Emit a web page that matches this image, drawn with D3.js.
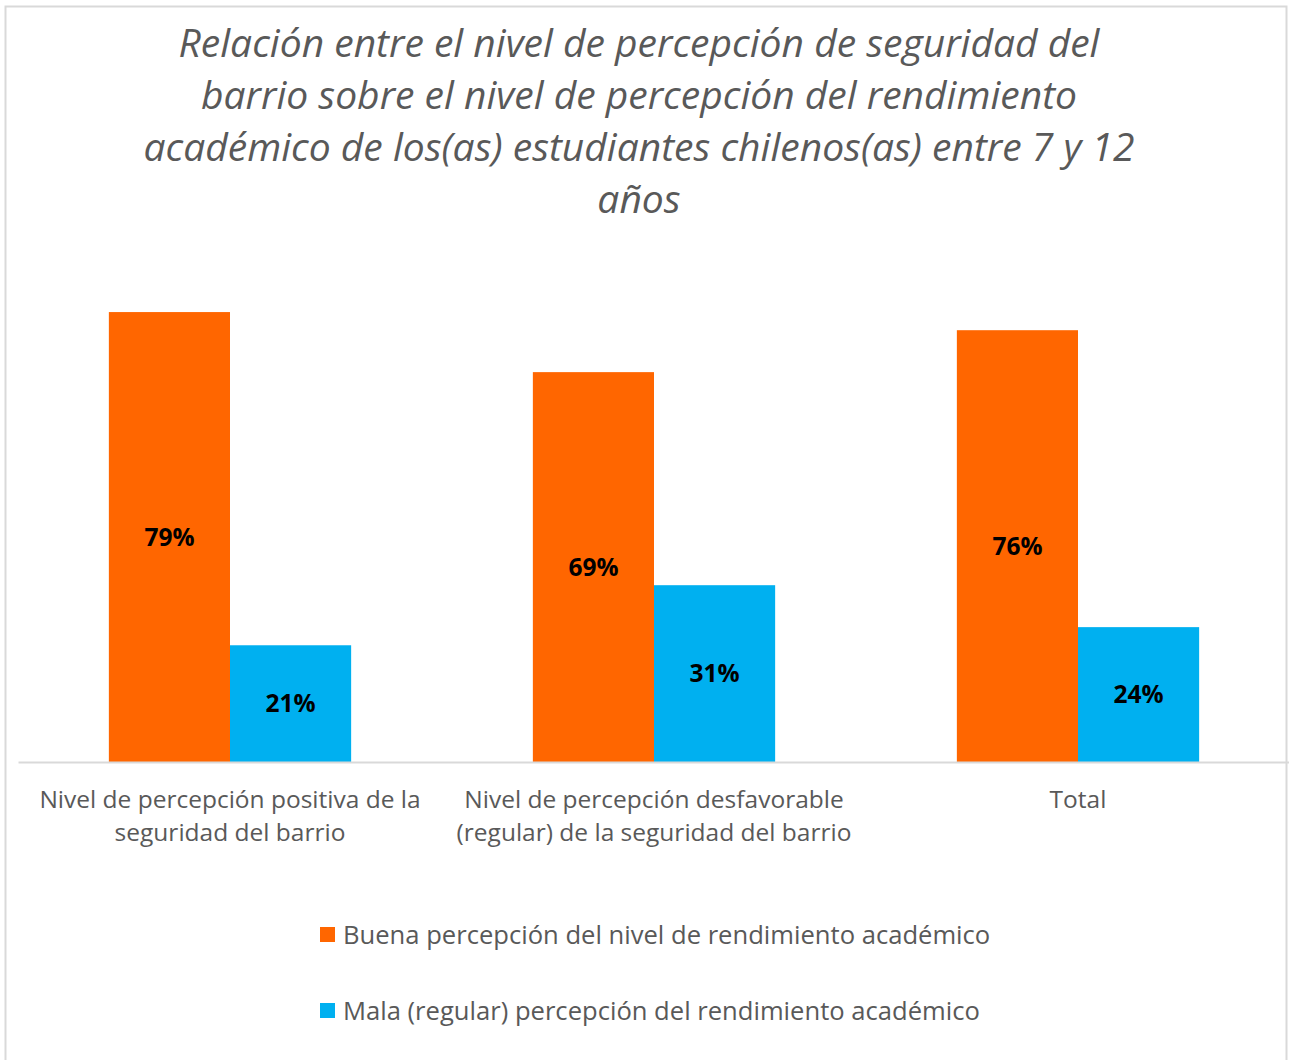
<!DOCTYPE html>
<html lang="es">
  <head>
    <meta charset="UTF-8" />
    <title>Seguridad del barrio y rendimiento académico</title>
    <script src="https://d3js.org/d3.v7.min.js"></script>
    <style>
      body {
        margin: 0;
        background: #fff;
        font-family: "Open Sans", Arial, sans-serif;
      }
    </style>
  </head>
  <body>
    <script>
      // Data
      const categories = [
        ["Nivel de percepción positiva de la", "seguridad del barrio"],
        ["Nivel de percepción desfavorable", "(regular) de la seguridad del barrio"],
        ["Total"],
      ];
      const seriesNames = [
        "Buena percepción del nivel de rendimiento académico",
        "Mala (regular) percepción del rendimiento académico",
      ];
      const buena = [0.794, 0.688, 0.762];
      const mala = [0.206, 0.312, 0.238];
      const titleLines = [
        "Relación entre el nivel de percepción de seguridad del",
        "barrio sobre el nivel de percepción del rendimiento",
        "académico de los(as) estudiantes chilenos(as) entre 7 y 12",
        "años",
      ];
      const colors = ["#ff6600", "#00b0f0"];

      const width = 1289;
      const height = 1060;
      const svg = d3
        .select("body")
        .append("svg")
        .attr("width", width)
        .attr("height", height);

      // chart border
      svg
        .append("rect")
        .attr("x", 5.5)
        .attr("y", 6.5)
        .attr("width", 1281)
        .attr("height", 1060)
        .attr("fill", "#fff")
        .attr("stroke", "#d9d9d9")
        .attr("stroke-width", 2);

      // title
      svg
        .append("g")
        .selectAll("text")
        .data(titleLines)
        .join("text")
        .attr("x", 639)
        .attr("y", (d, i) => 57 + i * 52)
        .attr("text-anchor", "middle")
        .attr("font-size", 39)
        .attr("font-style", "italic")
        .attr("fill", "#595959")
        .text((d) => d);

      const x0 = d3
        .scaleBand()
        .domain(d3.range(categories.length))
        .range([18, 1290]);
      const x1 = d3
        .scaleBand()
        .domain([0, 1])
        .range([0, x0.bandwidth()])
        .paddingOuter(0.75);
      const y = d3.scaleLinear().domain([0, 0.9]).range([762, 252]);

      const series = [buena, mala];
      const groups = svg
        .append("g")
        .selectAll("g")
        .data(series)
        .join("g")
        .attr("fill", (d, i) => colors[i]);

      groups
        .selectAll("rect")
        .data((d, si) => d.map((v, ci) => ({ v, ci, si })))
        .join("rect")
        .attr("x", (d) => x0(d.ci) + x1(d.si))
        .attr("y", (d) => y(d.v))
        .attr("width", x1.bandwidth())
        .attr("height", (d) => y(0) - y(d.v));

      groups
        .selectAll("text")
        .data((d, si) => d.map((v, ci) => ({ v, ci, si })))
        .join("text")
        .attr("x", (d) => x0(d.ci) + x1(d.si) + x1.bandwidth() / 2)
        .attr("y", (d) => (y(d.v) + y(0)) / 2)
        .attr("dy", "0.35em")
        .attr("text-anchor", "middle")
        .attr("font-size", 24.5)
        .attr("font-weight", "bold")
        .attr("fill", "#000")
        .text((d) => d3.format(".0%")(d.v));

      // axis baseline
      const xAxis = svg
        .append("g")
        .attr("transform", `translate(0,${y(0)})`)
        .call(d3.axisBottom(x0).tickSize(0).tickFormat(""));
      xAxis.select(".domain").attr("stroke", "#d9d9d9").attr("stroke-width", 2);

      svg
        .append("g")
        .selectAll("text")
        .data(categories)
        .join("text")
        .attr("x", (d, i) => x0(i) + x0.bandwidth() / 2)
        .attr("y", 808)
        .attr("text-anchor", "middle")
        .attr("font-size", 24.5)
        .attr("fill", "#595959")
        .selectAll("tspan")
        .data((d) => d)
        .join("tspan")
        .attr("x", function () {
          return d3.select(this.parentNode).attr("x");
        })
        .attr("dy", (d, i) => (i === 0 ? 0 : 33))
        .text((d) => d);

      // legend
      const legend = svg
        .append("g")
        .selectAll("g")
        .data(seriesNames)
        .join("g")
        .attr("transform", (d, i) => `translate(320,${935 + i * 76})`);
      legend
        .append("rect")
        .attr("y", -8)
        .attr("width", 15)
        .attr("height", 15)
        .attr("fill", (d, i) => colors[i]);
      legend
        .append("text")
        .attr("x", 23)
        .attr("dy", "0.35em")
        .attr("font-size", 25.6)
        .attr("fill", "#595959")
        .text((d) => d);
    </script>
  </body>
</html>
